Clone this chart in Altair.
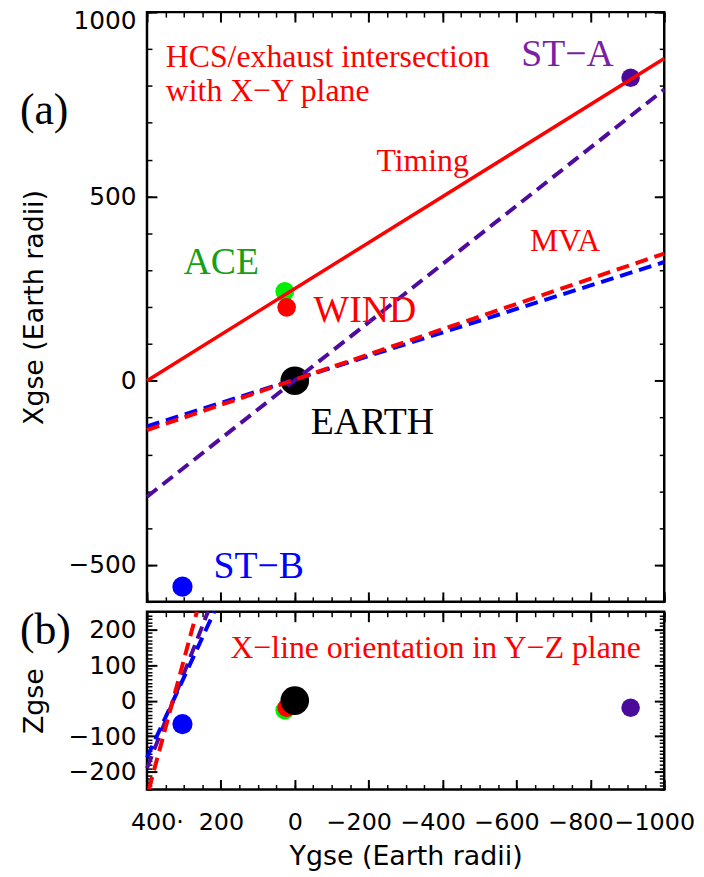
import altair as alt
import pandas as pd

SANS = "DejaVu Sans"
SERIF = "Liberation Serif"

# ---------------- data ----------------
# spacecraft positions in GSE (Earth radii)
craft_names = ["ST-B", "ST-A", "ACE", "WIND", "EARTH"]
craft_ygse = [304, -909, 27, 22, 0]
craft_xgse = [-559, 822, 242, 199, 0]
craft_zgse = [-66, -20, -27, -20, 0]
craft_colors = ["#0000ff", "#4a0a9a", "#00ee00", "#ff0000", "#000000"]
craft_sizes = [415, 350, 360, 350, 830]

# HCS / exhaust intersection with the X-Y plane (Ygse, Xgse endpoints)
timing_y = [400, -1000]
timing_x = [0, 874]
stereo_y = [400, -1000]
stereo_x = [-315, 790]
mva_red_y = [400, -1000]
mva_red_x = [-134, 345]
mva_blue_y = [400, -1000]
mva_blue_x = [-124, 322]

# X-line orientation in the Y-Z plane (Ygse, Zgse endpoints)
xl_purple_y = [400, 235]
xl_purple_z = [-190, 250]
xl_blue_y = [400, 218]
xl_blue_z = [-160, 250]
xl_red_y = [395, 265]
xl_red_z = [-250, 250]

# annotations
a_text = ["HCS/exhaust intersection", "with X\u2212Y plane", "ST\u2212A", "Timing", "MVA",
          "ACE", "WIND", "EARTH", "ST\u2212B", "(a)"]
a_ygse = [349, 349, -613, -221, -637, 301, -51, -43, 220, 744]
a_xgse = [850, 758, 855, 570, 352, 290, 159, -145, -535, 696]
a_color = ["#ff0000", "#ff0000", "#7d1fa6", "#ff0000", "#ff0000",
           "#16a016", "#ff0000", "#000000", "#0000ff", "#000000"]
a_size = [32, 32, 38, 32, 32, 38, 38, 38, 38, 44]

b_text = ["X\u2212line orientation in Y\u2212Z plane", "(b)"]
b_ygse = [174, 744]
b_zgse = [121, 158]
b_color = ["#ff0000", "#000000"]
b_size = [32, 44]

# axis ticks
y_major = [400, 200, 0, -200, -400, -600, -800, -1000]
y_minor = list(range(400, -1001, -50))
xa_major = [1000, 500, 0, -500]
xa_minor = list(range(-600, 1001, 100))
zb_major = [200, 100, 0, -100, -200]
zb_minor = list(range(-250, 251, 10))

# ---------------- chart ----------------
YS = alt.Scale(domain=[400, -1000], nice=False, zero=False)
XA = alt.Scale(domain=[-600, 1000], nice=False, zero=False)
ZB = alt.Scale(domain=[-250, 250], nice=False, zero=False)

MAJ, MIN = 10, 5


def tick_axis(orient, values, size, **kw):
    base = dict(orient=orient, values=values, tickSize=size, offset=-size,
                domain=False, grid=False, tickColor="black", minExtent=0,
                tickWidth=2 if size == MAJ else 1.5, labels=False, title=None)
    base.update(kw)
    return alt.Axis(**base)


def axis_layer(df, vscale, xaxis, yaxis):
    return alt.Chart(df).mark_point(opacity=0).encode(
        x=alt.X("ygse:Q", scale=YS, axis=xaxis),
        y=alt.Y("val:Q", scale=vscale, axis=yaxis),
    )


def line_layer(ys, vs, vscale, color, width, dash=None):
    df = pd.DataFrame({"ygse": ys, "val": vs, "o": list(range(len(ys)))})
    kw = dict(color=color, strokeWidth=width)
    if dash is not None:
        kw["strokeDash"] = dash
    return alt.Chart(df).mark_line(**kw).encode(
        x=alt.X("ygse:Q", scale=YS, axis=None),
        y=alt.Y("val:Q", scale=vscale, axis=None),
        order="o:Q",
    )


def point_layer(ys, vs, vscale):
    df = pd.DataFrame({"ygse": ys, "val": vs, "c": craft_colors, "s": craft_sizes,
                       "name": craft_names})
    return alt.Chart(df).mark_circle(opacity=1).encode(
        x=alt.X("ygse:Q", scale=YS, axis=None),
        y=alt.Y("val:Q", scale=vscale, axis=None),
        color=alt.Color("c:N", scale=None),
        size=alt.Size("s:Q", scale=None),
    )


def text_layer(texts, ys, vs, colors, sizes, vscale):
    df = pd.DataFrame({"ygse": ys, "val": vs, "t": texts, "c": colors, "s": sizes})
    return alt.Chart(df).mark_text(align="left", baseline="alphabetic", font=SERIF).encode(
        x=alt.X("ygse:Q", scale=YS, axis=None),
        y=alt.Y("val:Q", scale=vscale, axis=None),
        text="t:N",
        color=alt.Color("c:N", scale=None),
        size=alt.Size("s:Q", scale=None),
    )


label_kw = dict(labels=True, labelFont=SANS, labelColor="black", format="d",
                labelOverlap=False, labelFlush=False)
ytitle_kw = dict(titleFont=SANS, titleFontSize=27, titleFontWeight="normal",
                 titleColor="black", titlePadding=20)

dummy = pd.DataFrame({"ygse": [0], "val": [0]})

panel_a = alt.layer(
    axis_layer(dummy, XA,
               tick_axis("bottom", y_major, MAJ),
               tick_axis("left", xa_major, MAJ, labelPadding=11, labelFontSize=25,
                         labelOffset={"condition": {"test": "datum.value === 1000", "value": 8}, "value": 0},
                         title="Xgse (Earth radii)", **label_kw, **ytitle_kw)),
    axis_layer(dummy, XA, tick_axis("bottom", y_minor, MIN), tick_axis("left", xa_minor, MIN)),
    axis_layer(dummy, XA, tick_axis("top", y_major, MAJ), tick_axis("right", xa_major, MAJ)),
    axis_layer(dummy, XA, tick_axis("top", y_minor, MIN), tick_axis("right", xa_minor, MIN)),
    point_layer(craft_ygse, craft_xgse, XA),
    line_layer(timing_y, timing_x, XA, "#ff0000", 3.5),
    line_layer(stereo_y, stereo_x, XA, "#4f0aa0", 4, [13, 7]),
    line_layer(mva_blue_y, mva_blue_x, XA, "#0000ff", 4, [13, 7]),
    line_layer(mva_red_y, mva_red_x, XA, "#ff0000", 4, [13, 7]),
    text_layer(a_text, a_ygse, a_xgse, a_color, a_size, XA),
).resolve_axis(x="independent", y="independent").properties(width=521, height=594)

panel_b = alt.layer(
    axis_layer(dummy, ZB,
               tick_axis("bottom", y_major, MAJ, labelPadding=21, labelFontSize=24,
                         labelExpr="datum.value == 400 ? '400\u00b7' : datum.label",
                         labelOffset={"condition": [{"test": "datum.value < 0", "value": -10},
                                                    {"test": "datum.value === 400", "value": 10}],
                                      "value": 0},
                         title="Ygse (Earth radii)", titleFont=SANS, titleFontSize=27,
                         titleFontWeight="normal", titleColor="black", titlePadding=10,
                         **label_kw),
               tick_axis("left", zb_major, MAJ, labelPadding=11, labelFontSize=25, title="Zgse",
                         **label_kw, **ytitle_kw)),
    axis_layer(dummy, ZB, tick_axis("bottom", y_minor, MIN), tick_axis("left", zb_minor, MIN)),
    axis_layer(dummy, ZB, tick_axis("top", y_major, MAJ), tick_axis("right", zb_major, MAJ)),
    axis_layer(dummy, ZB, tick_axis("top", y_minor, MIN), tick_axis("right", zb_minor, MIN)),
    point_layer(craft_ygse, craft_zgse, ZB),
    line_layer(xl_purple_y, xl_purple_z, ZB, "#4f0aa0", 4, [13, 7]),
    line_layer(xl_blue_y, xl_blue_z, ZB, "#0000ff", 4, [13, 7]),
    line_layer(xl_red_y, xl_red_z, ZB, "#ff0000", 4, [13, 7]),
    text_layer(b_text, b_ygse, b_zgse, b_color, b_size, ZB),
).resolve_axis(x="independent", y="independent").properties(width=521, height=179)

chart = alt.vconcat(panel_a, panel_b, spacing=-3).properties(
    padding={"left": 10, "top": -5, "right": 0, "bottom": 0},
    background="white",
).configure_view(stroke="black", strokeWidth=2.5)

chart.save("out.html", embed_options={"renderer": "svg", "actions": False})
